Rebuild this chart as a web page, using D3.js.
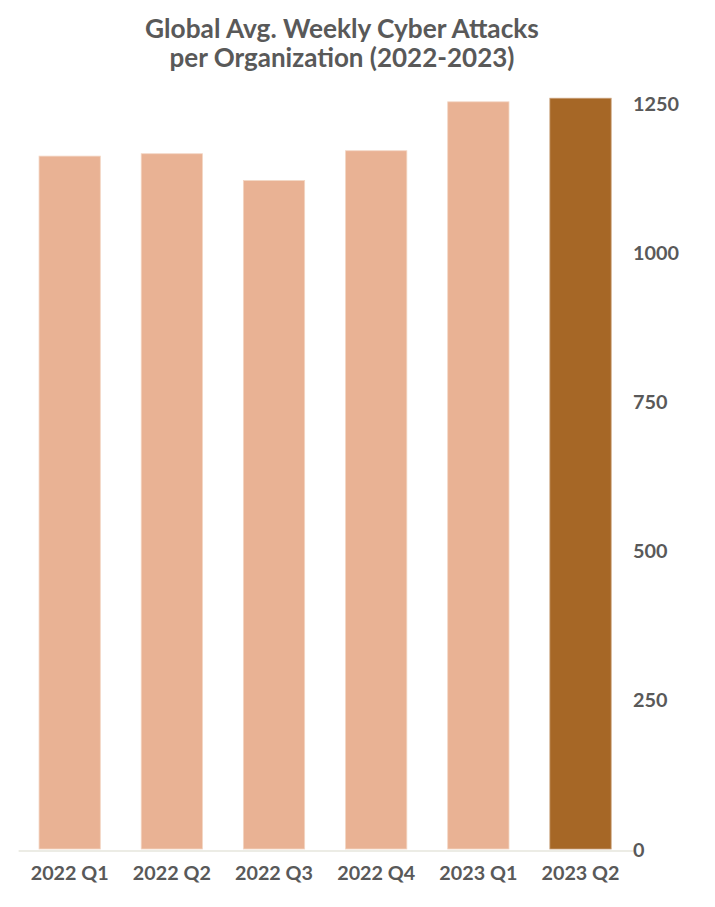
<!DOCTYPE html>
<html>
<head>
<meta charset="utf-8">
<script src="https://cdn.jsdelivr.net/npm/d3@7"></script>
<style>
  html, body { margin: 0; padding: 0; background: #ffffff; }
  svg { display: block; }
  text { font-family: Lato, "Open Sans", "Liberation Sans", sans-serif; font-weight: 700; fill: #595959; }
</style>
</head>
<body>
<script>
const categories = ["2022 Q1", "2022 Q2", "2022 Q3", "2022 Q4", "2023 Q1", "2023 Q2"];
const attacks = [1161, 1165, 1120, 1170, 1252, 1258];
const yTicks = [0, 250, 500, 750, 1000, 1250];
const titleLines = ["Global Avg. Weekly Cyber Attacks", "per Organization (2022-2023)"];

const W = 715, H = 907;
const svg = d3.select("body").append("svg").attr("width", W).attr("height", H);

const x = d3.scaleBand().domain(categories).range([18.6, 631.6]).paddingInner(0.4).paddingOuter(0.2);
const y = d3.scaleLinear().domain([0, 1250]).range([849, 103]);

// fit a text element to a target width by adjusting font size
function fit(sel, targetW) {
  sel.style("font-size", "100px");
  const w = sel.node().getComputedTextLength();
  sel.style("font-size", (100 * targetW / w).toFixed(2) + "px");
}

// title
const t1 = svg.append("text").attr("x", 342).attr("y", 38).attr("text-anchor", "middle").text(titleLines[0]);
fit(t1, 394);
const t2 = svg.append("text").attr("x", 342).attr("y", 67).attr("text-anchor", "middle").text(titleLines[1]);
fit(t2, 345);

// bars
svg.append("g").selectAll("rect").data(categories).join("rect")
  .attr("x", d => x(d))
  .attr("width", x.bandwidth())
  .attr("y", (d, i) => y(attacks[i]))
  .attr("height", (d, i) => y(0) - y(attacks[i]))
  .attr("fill", (d, i) => i === categories.length - 1 ? "#A66726" : "#E9B294")
  .attr("stroke", (d, i) => i === categories.length - 1 ? "#C9A07A" : "#F3D6C4")
  .attr("stroke-width", 0.8);

// baseline
const xr = x.range();
svg.append("line").attr("x1", xr[0]).attr("x2", xr[1] + 2).attr("y1", y(0) + 2).attr("y2", y(0) + 2)
  .attr("stroke", "#E6E6DC").attr("stroke-width", 1.5);

// right-side y axis labels
const yAxis = d3.axisRight(y).tickValues(yTicks).tickSize(0).tickPadding(0).tickFormat(d3.format("d"));
const gy = svg.append("g").attr("transform", "translate(633,0)").call(yAxis);
gy.select(".domain").remove();
gy.selectAll("text").attr("fill", "#595959").attr("dy", "0.36em").style("font-family", null).each(function () {
  const s = d3.select(this);
  s.style("font-size", "100px");
  const w = this.getComputedTextLength();
  const target = 46 * s.text().length / 4;
  s.style("font-size", (100 * 46 / (w * 4 / s.text().length)).toFixed(2) + "px");
});

// x axis labels
const xAxis = d3.axisBottom(x).tickSize(0).tickPadding(0);
const gx = svg.append("g").attr("transform", "translate(0,866)").call(xAxis);
gx.select(".domain").remove();
gx.selectAll("text").attr("fill", "#595959").attr("dy", "0.71em").style("font-family", null).each(function () {
  fit(d3.select(this), 78);
});
</script>
</body>
</html>
